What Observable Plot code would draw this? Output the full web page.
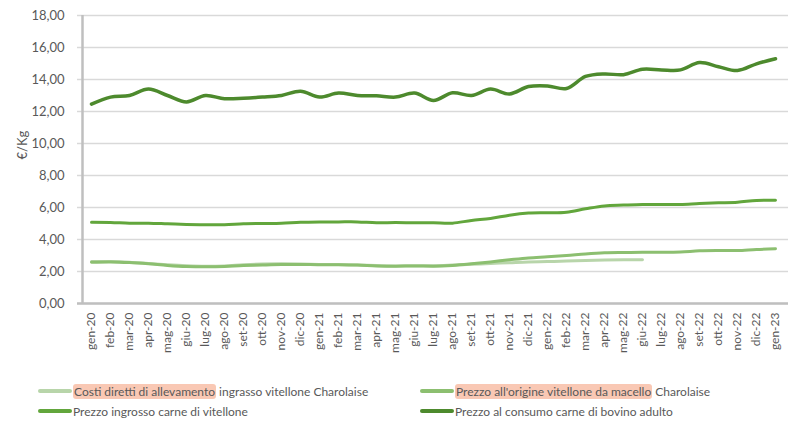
<!DOCTYPE html>
<html><head><meta charset="utf-8">
<script src="https://cdn.jsdelivr.net/npm/d3@7"></script>
<script src="https://cdn.jsdelivr.net/npm/@observablehq/plot@0.6"></script>
<style>
body{margin:0;background:#fff;font-family:Lato,"Open Sans",sans-serif;}
#wrap{position:relative;width:793px;height:422px;}
.leg{position:absolute;font-size:12px;color:#595959;white-space:nowrap;display:flex;align-items:center;height:16px;}
.sw{display:inline-block;width:34px;height:4px;border-radius:2px;margin-right:1px;}
.hl{background:#f9c8b4;border-radius:3px;padding:0 1px;}
</style></head>
<body><div id="wrap"><div id="chart"></div>
<div class="leg" style="left:38px;top:383px"><span class="sw" style="background:#b8d5aa"></span><span class="hl">Costi diretti di allevamento</span>&nbsp;ingrasso vitellone Charolaise</div>
<div class="leg" style="left:420px;top:383px"><span class="sw" style="background:#8cbf70"></span><span class="hl">Prezzo all'origine vitellone da macello</span>&nbsp;Charolaise</div>
<div class="leg" style="left:38px;top:403px"><span class="sw" style="background:#62a63c"></span>Prezzo ingrosso carne di vitellone</div>
<div class="leg" style="left:420px;top:403px"><span class="sw" style="background:#4d8a2d"></span>Prezzo al consumo carne di bovino adulto</div>
</div>
<script>
const months = ["gen-20","feb-20","mar-20","apr-20","mag-20","giu-20","lug-20","ago-20","set-20","ott-20","nov-20","dic-20",
"gen-21","feb-21","mar-21","apr-21","mag-21","giu-21","lug-21","ago-21","set-21","ott-21","nov-21","dic-21",
"gen-22","feb-22","mar-22","apr-22","mag-22","giu-22","lug-22","ago-22","set-22","ott-22","nov-22","dic-22","gen-23"];
const costiDiretti = [2.62,2.62,2.58,2.50,2.42,2.36,2.33,2.35,2.42,2.47,2.48,2.47,2.44,2.43,2.41,2.37,2.35,2.36,2.36,2.40,2.45,2.50,2.55,2.60,2.62,2.65,2.69,2.72,2.73,2.73];
const prezzoOrigine = [2.58,2.60,2.56,2.48,2.38,2.31,2.29,2.31,2.38,2.40,2.44,2.44,2.42,2.42,2.40,2.35,2.33,2.35,2.33,2.38,2.48,2.60,2.73,2.85,2.92,3.00,3.10,3.17,3.19,3.20,3.20,3.22,3.29,3.31,3.31,3.38,3.42];
const prezzoIngrosso = [5.08,5.07,5.02,5.02,4.98,4.94,4.92,4.92,4.98,5.00,5.02,5.08,5.10,5.10,5.10,5.04,5.06,5.04,5.04,5.02,5.19,5.31,5.52,5.65,5.67,5.71,5.92,6.10,6.15,6.19,6.19,6.19,6.25,6.29,6.33,6.44,6.46];
const prezzoConsumo = [12.46,12.90,13.00,13.40,13.00,12.60,13.00,12.80,12.83,12.90,13.00,13.27,12.90,13.15,13.00,12.98,12.90,13.15,12.69,13.17,13.00,13.40,13.10,13.56,13.60,13.44,14.19,14.35,14.30,14.64,14.60,14.60,15.06,14.80,14.56,14.98,15.30];
const yTicks = [0,2,4,6,8,10,12,14,16,18];

const series = [
  {name:"costi", values:costiDiretti, color:"#b8d5aa", w:3},
  {name:"origine", values:prezzoOrigine, color:"#8cbf70", w:3},
  {name:"ingrosso", values:prezzoIngrosso, color:"#62a63c", w:3},
  {name:"consumo", values:prezzoConsumo, color:"#4d8a2d", w:3.5}
];
const fmt = v => d3.format(".2f")(v).replace(".", ",");

const lineMarks = series.map(s => Plot.line(s.values.map((v,i)=>({m:months[i], v})), {
  x:"m", y:"v", stroke:s.color, strokeWidth:s.w, curve:"catmull-rom", strokeLinecap:"round"
}));

const chart = Plot.plot({
  width:793, height:360,
  marginLeft:77, marginRight:5, marginTop:15, marginBottom:57,
  style:{fontFamily:"Lato, 'Open Sans', sans-serif", color:"#595959", background:"#fff"},
  x:{type:"point", domain:months, padding:0.47, label:null},
  y:{domain:[0,18], label:null},
  marks:[
    Plot.gridY(yTicks, {stroke:"#d9d9d9", strokeOpacity:1, strokeWidth:1.5}),
    Plot.axisY(yTicks, {tickSize:0, tickPadding:13, tickFormat:fmt, fontSize:13, label:null, fill:"#595959"}),
    Plot.axisX({tickSize:0, tickPadding:9, tickRotate:-90, fontSize:12, label:null, fill:"#595959"}),
    Plot.ruleX([0], {x:()=>months[0], dx:-9, stroke:"#bfbfbf", strokeWidth:2.5}),
    Plot.ruleY([0], {stroke:"#bfbfbf", strokeWidth:2.5}),
    ...lineMarks,
    Plot.text(["€/Kg"], {frameAnchor:"left", text:d=>d, rotate:-90, dx:-55, fontSize:13, fill:"#595959"})
  ]
});
document.getElementById("chart").appendChild(chart);
</script></body></html>
